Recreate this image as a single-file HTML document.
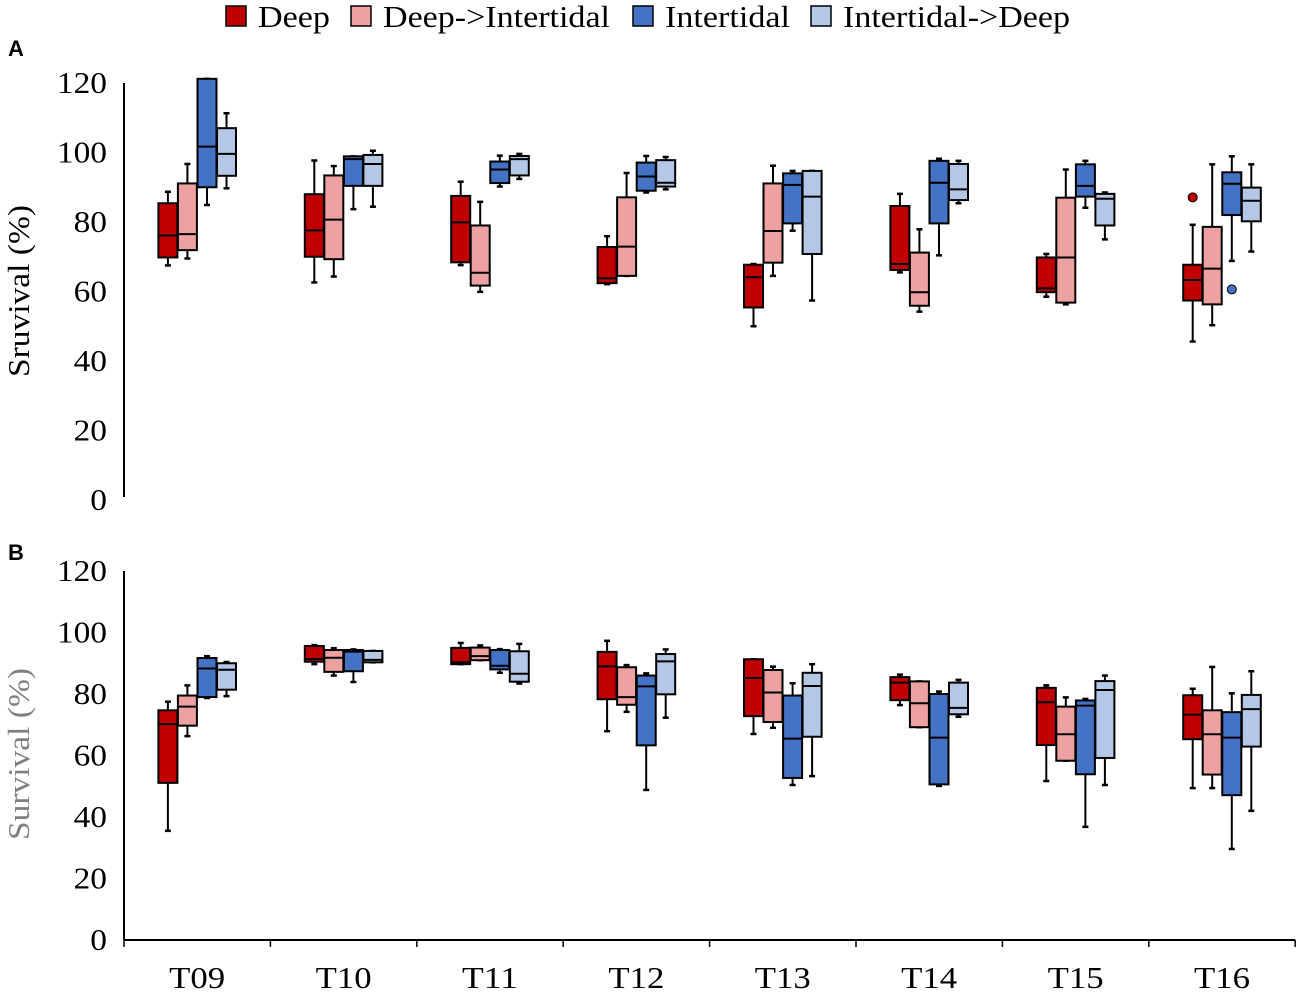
<!DOCTYPE html>
<html><head><meta charset="utf-8"><style>
body{margin:0;background:#fff;}
svg{display:block;font-family:"Liberation Serif",serif;}
</style></head><body>
<svg id="chart" width="1299" height="995" viewBox="0 0 1299 995">
<g id="legend"></g>
<text x="8" y="56" font-family="Liberation Sans, sans-serif" font-weight="bold" font-size="22">A</text>
<text x="8" y="560" font-family="Liberation Sans, sans-serif" font-weight="bold" font-size="22">B</text>
<text transform="translate(29,291) rotate(-90)" text-anchor="middle" font-size="31" textLength="172" lengthAdjust="spacingAndGlyphs">Sruvival (%)</text>
<text transform="translate(29,754) rotate(-90)" text-anchor="middle" font-size="31" fill="#808080" textLength="172" lengthAdjust="spacingAndGlyphs">Survival (%)</text>
<g id="panelA"></g>
<g id="panelB"></g>
</svg>
<script>
const categories = ["T09","T10","T11","T12","T13","T14","T15","T16"];
const seriesNames = ["Deep","Deep->Intertidal","Intertidal","Intertidal->Deep"];
const seriesColors = ["#c00000","#eda1a1","#4472c4","#b4c7e7"];
const yTicks = [0,20,40,60,80,100,120];
// [whiskerLow, q1, median, q3, whiskerHigh] per category per series
const panelADeep = [[67.5,69.8,76.1,85.4,88.7],[62.6,70,77.6,88,97.7],[67.6,68.4,79.9,87.5,91.6],[62.1,62.4,63.8,72.8,75.9],[50,55.4,64.1,67.7,67.9],[65.5,66.2,67.9,84.6,88.1],[58.5,59.8,60.9,69.8,70.8],[45.6,57.4,63.3,67.7,79.2]];
const panelADeepInt = [[69.5,71.9,76.5,91.1,96.7],[64.3,69.3,80.7,93.4,96.1],[59.9,61.7,65.4,79,85.8],[64.5,64.5,72.9,87.1,94.1],[64.5,68.3,77.4,91.1,96.2],[54.2,55.9,59.8,71.2,77.9],[56.3,56.8,69.8,87,95.1],[50.3,56.3,66.6,78.6,96.6]];
const panelAInt = [[84.9,90,101.7,121.2,121.2],[83.7,90.4,98.1,98.9,98.9],[90.2,91.2,95.1,97.4,99.1],[88.5,89,93.1,97.1,99],[77.5,79.6,90.7,94,94.7],[70.4,79.6,91.3,97.6,98.2],[84.1,87.3,90.4,96.6,97.6],[68.8,82,91,94.3,98.9]];
const panelAIntDeep = [[89.7,93.3,99.6,107,111.3],[84.4,90.4,96.7,99.3,100.5],[92.4,93.4,98.1,99,99.6],[89.4,90.2,91.3,97.8,98.7],[57.4,70.8,87.3,94.7,94.7],[85.4,86.3,89.4,96.7,97.6],[75,79,86.7,88.1,88.5],[71.5,80.2,86.1,89.9,96.6]];
const panelAOutliers = [[7,0,87.1],[7,2,60.6]]; // [categoryIndex, seriesIndex, value]
const panelBDeep = [[35.5,51.1,70.2,74.7,77.5],[89.7,90.5,91.4,95.6,95.9],[89.7,89.7,90.3,95,96.6],[67.9,78.3,89,93.7,97.3],[67,72.8,85.2,91.3,91.3],[76.4,78,83.7,85.5,86.3],[51.7,63.4,77.3,82,82.8],[49.4,65.3,73.3,79.6,81.7]];
const panelBDeepInt = [[66.3,69.7,75.9,79.5,82.8],[86,87.2,91.8,94.3,94.9],[91,91,92.3,95.1,95.8],[74.2,76.5,79,88.7,89.4],[69,70.9,80.5,87.8,88.9],[69.2,69.2,77,84.1,84.1],[58.3,58.3,66.9,75.9,78.9],[49.4,53.8,66.9,74.7,88.8]];
const panelBInt = [[78.7,79,88.3,91.7,92.3],[83.9,87.4,93.8,94.3,94.5],[86.9,88,89.2,94.3,94.6],[48.8,63.3,82.5,86,86.7],[50.4,52.7,65.5,79.5,83.5],[50.1,50.6,65.8,80,80.8],[36.8,53.9,76.2,77.9,78.4],[29.6,47.1,65.8,74.1,80.2]];
const panelBIntDeep = [[79.3,81.4,87.9,90,90.4],[90.3,90.3,91.1,94,94],[83.4,84,86.6,93.9,96.3],[72.3,79.9,90.6,93,94.5],[53.3,66.1,82.6,86.9,89.7],[72.6,73.4,75.5,83.7,84.6],[50.4,59.2,81.3,84.2,86],[42,62.9,75.1,79.7,87.4]];
const panelBOutliers = [];

const NS="http://www.w3.org/2000/svg";
function mk(tag, attrs, parent){const e=document.createElementNS(NS,tag);for(const k in attrs)e.setAttribute(k,attrs[k]);parent.appendChild(e);return e;}
const xLeft=124, catW=146.4, boxW=19, offs=[-29.3,-9.8,9.8,29.3];
function xCenter(i){return xLeft+catW*(i+0.5);}

// legend
const lg=document.getElementById('legend');
const legX=[226,351,633,811];
const legW=[72,227,125,227];
seriesNames.forEach((n,s)=>{
  const r=mk('rect',{x:legX[s],y:6,width:20,height:20,fill:seriesColors[s],stroke:'#000','stroke-width':1.5},lg);
  
  
  const t=mk('text',{x:legX[s]+32,y:27,'font-size':31,textLength:legW[s],lengthAdjust:'spacingAndGlyphs'},lg);
  t.textContent=n;
  
  
});

function drawPanel(g, y0, y120, series, outliers, xAxis, pname){
  const ys=v=>y0-(y0-y120)*v/120;
  const ax=mk('line',{x1:xLeft,y1:y120,x2:xLeft,y2:y0+(xAxis?0:-3),stroke:'#000','stroke-width':2},g);
  
  
  yTicks.forEach(v=>{
    const s=String(v);
    const t=mk('text',{x:107,y:ys(v)+10,'text-anchor':'end','font-size':31,textLength:s.length*16.7,lengthAdjust:'spacingAndGlyphs'},g);
    t.textContent=v;
    
    
  });
  if(xAxis){
    const xa=mk('line',{x1:xLeft,y1:y0,x2:xLeft+catW*categories.length,y2:y0,stroke:'#000','stroke-width':2},g);
    
    
    for(let i=0;i<=categories.length;i++){
      const tk=mk('line',{x1:xLeft+catW*i,y1:y0,x2:xLeft+catW*i,y2:y0+7,stroke:'#000','stroke-width':1.5},g);
      
      
    }
    categories.forEach((c,i)=>{
      const t=mk('text',{x:xCenter(i),y:y0+48,'text-anchor':'middle','font-size':31,textLength:56,lengthAdjust:'spacingAndGlyphs'},g);
      t.textContent=c;
      
      
    });
  }
  series.forEach((arr,s)=>{
    arr.forEach((d,i)=>{
      const cx=xCenter(i)+offs[s];
      const bg=mk('g',{},g);
      
      
      mk('line',{x1:cx,y1:ys(d[0]),x2:cx,y2:ys(d[4]),stroke:'#000','stroke-width':2},bg);
      mk('line',{x1:cx-3,y1:ys(d[0]),x2:cx+3,y2:ys(d[0]),stroke:'#000','stroke-width':2.5},bg);
      mk('line',{x1:cx-3,y1:ys(d[4]),x2:cx+3,y2:ys(d[4]),stroke:'#000','stroke-width':2.5},bg);
      mk('rect',{x:cx-boxW/2,y:ys(d[3]),width:boxW,height:Math.max(1,ys(d[1])-ys(d[3])),fill:seriesColors[s],stroke:'#000','stroke-width':2},bg);
      mk('line',{x1:cx-boxW/2,y1:ys(d[2]),x2:cx+boxW/2,y2:ys(d[2]),stroke:'#000','stroke-width':2},bg);
    });
  });
  outliers.forEach(o=>{
    const c=mk('circle',{cx:xCenter(o[0])+offs[o[1]],cy:ys(o[2]),r:4.5,fill:seriesColors[o[1]],stroke:'#000','stroke-width':1},g);
    
    
  });
}
drawPanel(document.getElementById('panelA'),500,83,[panelADeep,panelADeepInt,panelAInt,panelAIntDeep],panelAOutliers,false,'panel-a');
drawPanel(document.getElementById('panelB'),940,571,[panelBDeep,panelBDeepInt,panelBInt,panelBIntDeep],panelBOutliers,true,'panel-b');
</script>
</body></html>
